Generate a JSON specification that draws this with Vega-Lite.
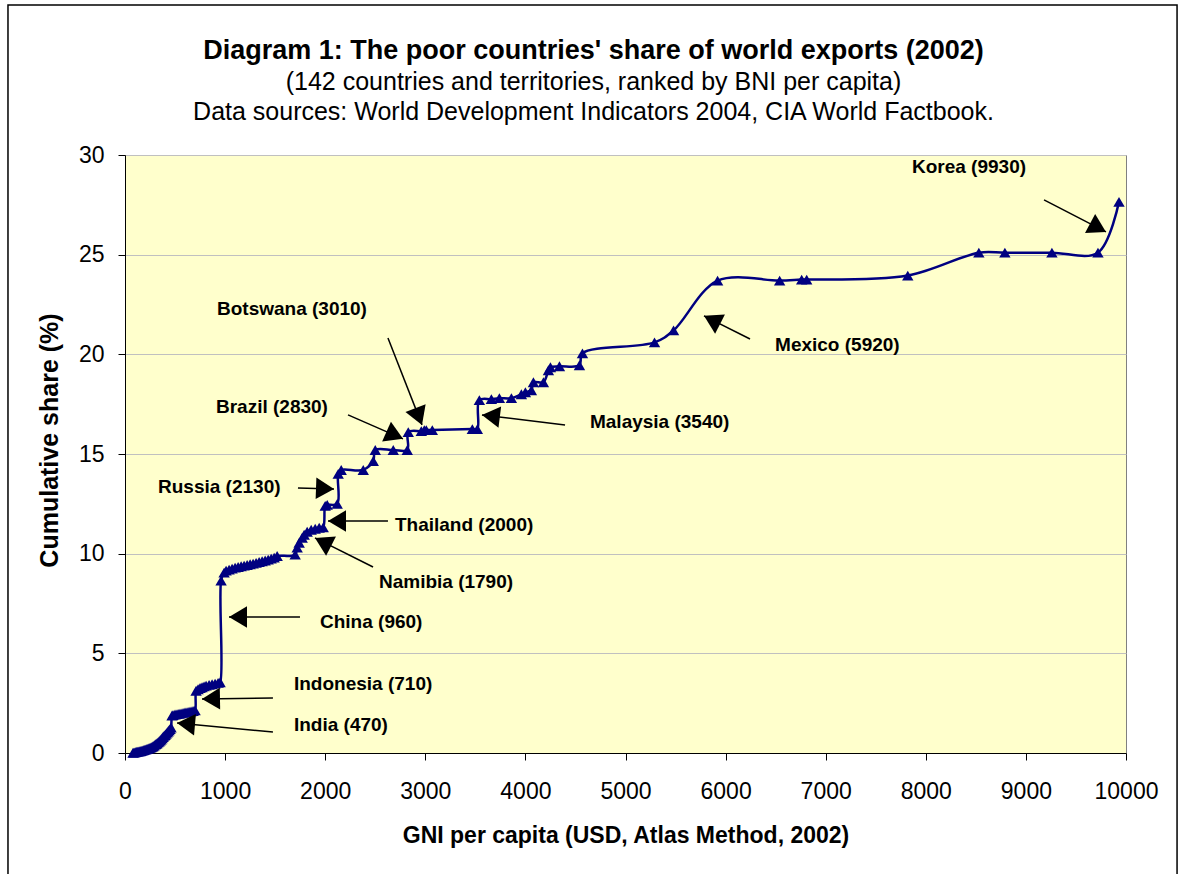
{
  "$schema": "https://vega.github.io/schema/vega-lite/v6.json",
  "width": 1001,
  "height": 598,
  "autosize": "none",
  "padding": {"left": 125, "top": 155, "right": 55, "bottom": 121},
  "background": "white",
  "title": {
    "text": "Diagram 1: The poor countries' share of world exports (2002)",
    "subtitle": ["(142 countries and territories, ranked by BNI per capita)", "Data sources: World Development Indicators 2004, CIA World Factbook."],
    "font": "Liberation Sans",
    "fontSize": 27,
    "fontWeight": "bold",
    "color": "black",
    "subtitleFont": "Liberation Sans",
    "subtitleFontSize": 25,
    "subtitleColor": "black",
    "subtitleLineHeight": 30,
    "subtitlePadding": 5,
    "anchor": "middle",
    "dx": -32,
    "dy": 144,
    "offset": 22
  },
  "config": {
    "view": {"fill": "#FFFFCC", "stroke": "#808080", "strokeWidth": 1},
    "axis": {
      "labelFont": "Liberation Sans",
      "titleFont": "Liberation Sans",
      "labelColor": "black",
      "titleColor": "black",
      "domainColor": "black",
      "tickColor": "black",
      "domainWidth": 1,
      "tickWidth": 1
    }
  },
  "datasets": {
    "series": [
      {"gni": 80, "share": 0.01}, {"gni": 90, "share": 0.02}, {"gni": 100, "share": 0.03}, {"gni": 110, "share": 0.05},
      {"gni": 120, "share": 0.06}, {"gni": 130, "share": 0.07}, {"gni": 140, "share": 0.08}, {"gni": 150, "share": 0.09},
      {"gni": 160, "share": 0.1}, {"gni": 170, "share": 0.12}, {"gni": 180, "share": 0.13}, {"gni": 190, "share": 0.15},
      {"gni": 200, "share": 0.17}, {"gni": 210, "share": 0.18}, {"gni": 220, "share": 0.2}, {"gni": 230, "share": 0.22},
      {"gni": 240, "share": 0.24}, {"gni": 250, "share": 0.26}, {"gni": 260, "share": 0.28}, {"gni": 270, "share": 0.31},
      {"gni": 280, "share": 0.34}, {"gni": 290, "share": 0.37}, {"gni": 300, "share": 0.42}, {"gni": 310, "share": 0.45},
      {"gni": 320, "share": 0.49}, {"gni": 330, "share": 0.53}, {"gni": 340, "share": 0.58}, {"gni": 350, "share": 0.63},
      {"gni": 360, "share": 0.68}, {"gni": 370, "share": 0.74}, {"gni": 380, "share": 0.8}, {"gni": 390, "share": 0.86},
      {"gni": 400, "share": 0.9}, {"gni": 410, "share": 0.96}, {"gni": 420, "share": 1.02}, {"gni": 430, "share": 1.08},
      {"gni": 440, "share": 1.14}, {"gni": 450, "share": 1.2}, {"gni": 460, "share": 1.28}, {"gni": 470, "share": 1.88},
      {"gni": 480, "share": 1.9}, {"gni": 500, "share": 1.93}, {"gni": 520, "share": 1.95}, {"gni": 540, "share": 1.97},
      {"gni": 560, "share": 1.99}, {"gni": 580, "share": 2.01}, {"gni": 600, "share": 2.03}, {"gni": 620, "share": 2.05},
      {"gni": 640, "share": 2.07}, {"gni": 660, "share": 2.09}, {"gni": 680, "share": 2.11}, {"gni": 700, "share": 2.14},
      {"gni": 710, "share": 3.12}, {"gni": 730, "share": 3.2}, {"gni": 750, "share": 3.26}, {"gni": 770, "share": 3.3},
      {"gni": 790, "share": 3.34}, {"gni": 810, "share": 3.38}, {"gni": 840, "share": 3.42}, {"gni": 870, "share": 3.45},
      {"gni": 900, "share": 3.48}, {"gni": 930, "share": 3.52}, {"gni": 950, "share": 3.55}, {"gni": 960, "share": 8.65},
      {"gni": 990, "share": 9.05}, {"gni": 1010, "share": 9.15}, {"gni": 1040, "share": 9.2}, {"gni": 1070, "share": 9.25},
      {"gni": 1100, "share": 9.3}, {"gni": 1130, "share": 9.33}, {"gni": 1160, "share": 9.37}, {"gni": 1190, "share": 9.4},
      {"gni": 1220, "share": 9.43}, {"gni": 1250, "share": 9.47}, {"gni": 1280, "share": 9.5}, {"gni": 1310, "share": 9.54},
      {"gni": 1340, "share": 9.58}, {"gni": 1370, "share": 9.62}, {"gni": 1400, "share": 9.66}, {"gni": 1430, "share": 9.7},
      {"gni": 1460, "share": 9.75}, {"gni": 1490, "share": 9.8}, {"gni": 1520, "share": 9.88}, {"gni": 1700, "share": 9.95},
      {"gni": 1720, "share": 10.3}, {"gni": 1740, "share": 10.55}, {"gni": 1770, "share": 10.8}, {"gni": 1790, "share": 10.95},
      {"gni": 1820, "share": 11.1}, {"gni": 1860, "share": 11.2}, {"gni": 1900, "share": 11.25}, {"gni": 1940, "share": 11.3},
      {"gni": 1980, "share": 11.32}, {"gni": 2000, "share": 12.4}, {"gni": 2020, "share": 12.45}, {"gni": 2120, "share": 12.5},
      {"gni": 2130, "share": 14.0}, {"gni": 2160, "share": 14.2}, {"gni": 2380, "share": 14.2}, {"gni": 2480, "share": 14.65},
      {"gni": 2500, "share": 15.2}, {"gni": 2680, "share": 15.2}, {"gni": 2820, "share": 15.2}, {"gni": 2830, "share": 16.1},
      {"gni": 2960, "share": 16.15}, {"gni": 2990, "share": 16.2}, {"gni": 3010, "share": 16.2}, {"gni": 3070, "share": 16.2},
      {"gni": 3470, "share": 16.25}, {"gni": 3520, "share": 16.25}, {"gni": 3540, "share": 17.7}, {"gni": 3660, "share": 17.75},
      {"gni": 3740, "share": 17.8}, {"gni": 3860, "share": 17.8}, {"gni": 3960, "share": 18.0}, {"gni": 4000, "share": 18.1},
      {"gni": 4060, "share": 18.2}, {"gni": 4080, "share": 18.6}, {"gni": 4180, "share": 18.6}, {"gni": 4230, "share": 19.2},
      {"gni": 4250, "share": 19.35}, {"gni": 4340, "share": 19.4}, {"gni": 4540, "share": 19.45}, {"gni": 4570, "share": 20.05},
      {"gni": 5290, "share": 20.6}, {"gni": 5480, "share": 21.2}, {"gni": 5920, "share": 23.7}, {"gni": 6540, "share": 23.7},
      {"gni": 6760, "share": 23.75}, {"gni": 6810, "share": 23.75}, {"gni": 7820, "share": 23.95}, {"gni": 8530, "share": 25.1},
      {"gni": 8790, "share": 25.1}, {"gni": 9260, "share": 25.1}, {"gni": 9720, "share": 25.1}, {"gni": 9930, "share": 27.65}
    ],
    "notes": [
      {"label": "India (470)", "lx": 1688, "ly": 1.4, "tx": 1478, "ty": 1.05, "hx": 520, "hy": 1.5, "dir": 275},
      {"label": "Indonesia (710)", "lx": 1688, "ly": 3.46, "tx": 1478, "ty": 2.76, "hx": 769, "hy": 2.71, "dir": 269},
      {"label": "China (960)", "lx": 1948, "ly": 6.57, "tx": 1748, "ty": 6.82, "hx": 1039, "hy": 6.82, "dir": 270},
      {"label": "Namibia (1790)", "lx": 2537, "ly": 8.58, "tx": 2478, "ty": 9.33, "hx": 1898, "hy": 10.79, "dir": 297},
      {"label": "Thailand (2000)", "lx": 2697, "ly": 11.44, "tx": 2627, "ty": 11.64, "hx": 2028, "hy": 11.64, "dir": 270},
      {"label": "Russia (2130)", "lx": 330, "ly": 13.35, "tx": 1728, "ty": 13.3, "hx": 2088, "hy": 13.25, "dir": 92},
      {"label": "Brazil (2830)", "lx": 909, "ly": 17.36, "tx": 2228, "ty": 16.96, "hx": 2777, "hy": 15.76, "dir": 114},
      {"label": "Botswana (3010)", "lx": 919, "ly": 22.28, "tx": 2627, "ty": 20.82, "hx": 2967, "hy": 16.46, "dir": 159},
      {"label": "Malaysia (3540)", "lx": 4645, "ly": 16.61, "tx": 4396, "ty": 16.46, "hx": 3566, "hy": 16.96, "dir": 277},
      {"label": "Mexico (5920)", "lx": 6494, "ly": 20.47, "tx": 6244, "ty": 20.77, "hx": 5784, "hy": 21.93, "dir": 297},
      {"label": "Korea (9930)", "lx": 7862, "ly": 29.4, "tx": 9181, "ty": 27.75, "hx": 9800, "hy": 26.14, "dir": 118}
    ]
  },
  "layer": [
    {
      "data": {"values": [{"x0": -1169, "x1": 10510, "y0": -6.4, "y1": 37.53}]},
      "mark": {"type": "rect", "fill": null, "fillOpacity": 0, "stroke": "black", "strokeWidth": 1.5, "clip": false},
      "encoding": {
        "x": {"field": "x0", "type": "quantitative", "scale": {"domain": [0, 10000]}},
        "x2": {"field": "x1"},
        "y": {"field": "y0", "type": "quantitative", "scale": {"domain": [0, 30]}},
        "y2": {"field": "y1"}
      }
    },
    {
      "data": {"name": "series"},
      "mark": {"type": "line", "interpolate": "catmull-rom", "color": "#000080", "strokeWidth": 2.5},
      "encoding": {
        "x": {
          "field": "gni", "type": "quantitative",
          "scale": {"domain": [0, 10000], "nice": false, "zero": false},
          "axis": {
            "title": "GNI per capita (USD, Atlas Method, 2002)",
            "values": [0, 1000, 2000, 3000, 4000, 5000, 6000, 7000, 8000, 9000, 10000],
            "format": "d",
            "grid": false,
            "tickSize": 7,
            "labelPadding": 20,
            "labelFontSize": 23,
            "labelFlush": false,
            "labelOverlap": false,
            "titleFontSize": 23,
            "titleFontWeight": "bold",
            "titleBaseline": "alphabetic",
            "titleY": 89
          }
        },
        "y": {
          "field": "share", "type": "quantitative",
          "scale": {"domain": [0, 30], "nice": false, "zero": false},
          "axis": {
            "title": "Cumulative share (%)",
            "values": [0, 5, 10, 15, 20, 25, 30],
            "grid": true,
            "gridColor": "#C0C0C0",
            "gridWidth": 1,
            "tickSize": 7,
            "labelPadding": 14,
            "labelFontSize": 23,
            "labelFlush": false,
            "labelOverlap": false,
            "titleFontSize": 25,
            "titleFontWeight": "bold",
            "titleAngle": 270,
            "titleBaseline": "middle",
            "titleAlign": "center",
            "titleX": -76,
            "titleY": 285
          }
        }
      }
    },
    {
      "data": {"name": "series"},
      "mark": {"type": "point", "shape": "triangle-up", "filled": true, "color": "#000080", "size": 130, "opacity": 1},
      "encoding": {
        "x": {"field": "gni", "type": "quantitative"},
        "y": {"field": "share", "type": "quantitative"}
      }
    },
    {
      "data": {"name": "notes"},
      "mark": {"type": "rule", "color": "black", "strokeWidth": 1.5},
      "encoding": {
        "x": {"field": "tx", "type": "quantitative"},
        "y": {"field": "ty", "type": "quantitative"},
        "x2": {"field": "hx"},
        "y2": {"field": "hy"}
      }
    },
    {
      "data": {"name": "notes"},
      "mark": {"type": "point", "shape": "M0,0L1.2,2L-1.2,2Z", "filled": true, "color": "black", "size": 324, "opacity": 1},
      "encoding": {
        "x": {"field": "hx", "type": "quantitative"},
        "y": {"field": "hy", "type": "quantitative"},
        "angle": {"field": "dir", "type": "quantitative", "scale": null}
      }
    },
    {
      "data": {"name": "notes"},
      "mark": {"type": "text", "font": "Liberation Sans", "fontSize": 19, "fontWeight": "bold", "align": "left", "baseline": "middle", "color": "black"},
      "encoding": {
        "x": {"field": "lx", "type": "quantitative"},
        "y": {"field": "ly", "type": "quantitative"},
        "text": {"field": "label"}
      }
    }
  ]
}
